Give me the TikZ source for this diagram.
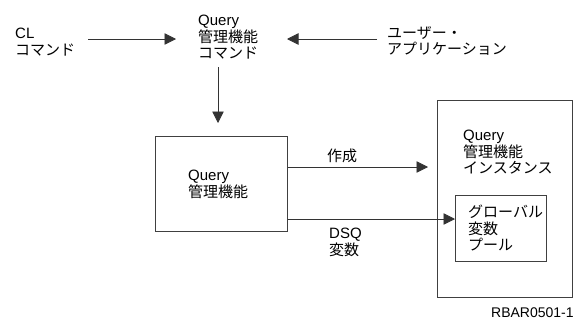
\documentclass[tikz,border=0pt]{standalone}
\usepackage{fontspec}
\setmainfont{Liberation Sans}
\newfontfamily\jp{Noto Sans CJK JP}
\usetikzlibrary{arrows.meta}
\tikzset{
  txt/.style={anchor=north west, inner sep=0pt, align=left, font=\fontsize{15}{16.5}\selectfont},
  box/.style={draw=black!75, line width=0.8pt},
  arr/.style={draw=black!80, line width=0.8pt, -{Triangle[length=11.5pt,width=11.5pt]}},
  ln/.style={draw=black!80, line width=0.8pt}
}
\begin{document}
\begin{tikzpicture}[x=1pt,y=-1pt]
\useasboundingbox (0,0) rectangle (584,330);
% text labels
\node[txt] (cl) at (15,28) {CL\\{\jp コマンド}};
\node[txt] (qcmd) at (198,15) {Query\\{\jp 管理機能}\\{\jp コマンド}};
\node[txt] (user) at (387,26) {{\jp ユーザー・}\\{\jp アプリケーション}};
% boxes
\node[box, minimum width=132pt, minimum height=95pt, anchor=north west, inner sep=0pt] (qm) at (155,136) {};
\node[txt] (qmt) at (188,170) {Query\\{\jp 管理機能}};
\node[box, minimum width=135pt, minimum height=197pt, anchor=north west, inner sep=0pt] (inst) at (437,100) {};
\node[txt] (instt) at (463,130) {Query\\{\jp 管理機能}\\{\jp インスタンス}};
\node[box, minimum width=91pt, minimum height=66pt, anchor=north west, inner sep=0pt] (pool) at (455,195) {};
\node[txt] (poolt) at (468,205) {{\jp グローバル}\\{\jp 変数}\\{\jp プール}};
\node[txt] (make) at (327,149) {{\jp 作成}};
\node[txt] (dsq) at (329,228) {DSQ\\{\jp 変数}};
\node[txt, font=\fontsize{14}{16}\selectfont] (id) at (491,308) {RBAR0501-1};
% connector endpoints
\coordinate (clA) at (88,39);
\coordinate (clB) at (176,39);
\coordinate (usA) at (377,39);
\coordinate (usB) at (287,39);
\coordinate (vA) at (218,67);
\coordinate (vB) at (218,123);
\coordinate (mkB) at (428,167);
% connectors
\draw[arr] (clA) -- (clB);
\draw[arr] (usA) -- (usB);
\draw[arr] (vA) -- (vB);
\draw[arr] (qm.east |- mkB) -- (mkB);
\draw[arr] (qm.east |- 0,219) -- (pool.west |- 0,219);
\end{tikzpicture}
\end{document}
